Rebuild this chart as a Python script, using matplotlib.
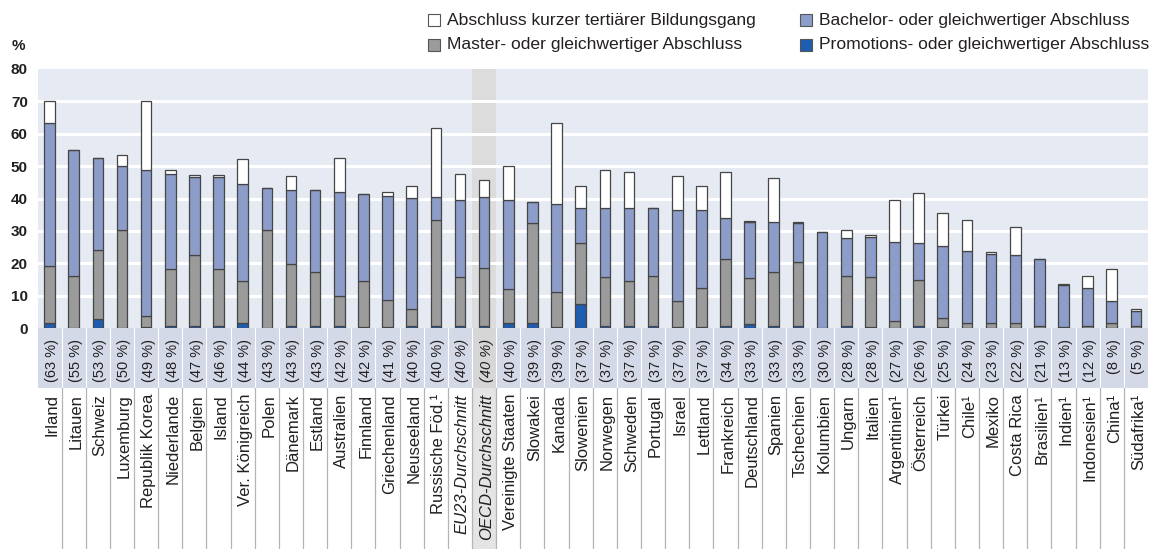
import matplotlib
matplotlib.use("Agg")
import matplotlib.pyplot as plt
from matplotlib.patches import Rectangle
import numpy as np

plt.rcParams['font.family'] = ['Liberation Sans', 'DejaVu Sans']

countries = ["Irland", "Litauen", "Schweiz", "Luxemburg", "Republik Korea", "Niederlande",
             "Belgien", "Island", "Ver. Königreich", "Polen", "Dänemark", "Estland",
             "Australien", "Finnland", "Griechenland", "Neuseeland", "Russische Föd.¹",
             "EU23-Durchschnitt", "OECD-Durchschnitt", "Vereinigte Staaten", "Slowakei",
             "Kanada", "Slowenien", "Norwegen", "Schweden", "Portugal", "Israel", "Lettland",
             "Frankreich", "Deutschland", "Spanien", "Tschechien", "Kolumbien", "Ungarn",
             "Italien", "Argentinien¹", "Österreich", "Türkei", "Chile¹", "Mexiko",
             "Costa Rica", "Brasilien¹", "Indien¹", "Indonesien¹", "China¹", "Südafrika¹"]

pct_labels = ["63", "55", "53", "50", "49", "48", "47", "46", "44", "43", "43", "43",
              "42", "42", "41", "40", "40", "40", "40", "40", "39", "39", "37", "37",
              "37", "37", "37", "37", "34", "33", "33", "33", "30", "28", "28", "27",
              "26", "25", "24", "23", "22", "21", "13", "12", "8", "5"]

doctoral = [1.5, 0, 2.8, 0, 0.3, 0.6, 0.6, 0.6, 1.5, 0, 0.6, 0.6, 0.6, 0.3, 0.3, 0.6,
            0.6, 0.6, 0.6, 1.5, 1.5, 0.3, 7.4, 0.6, 0.6, 0.6, 0.3, 0.3, 0.6, 1.2, 0.6,
            0.6, 0, 0.6, 0.3, 0, 0.6, 0.3, 0, 0, 0, 0, 0, 0, 0, 0]
master = [17.7, 16.0, 21.3, 30.2, 3.3, 17.5, 21.8, 17.5, 12.9, 30.2, 19.3, 16.8, 9.3,
          14.1, 8.5, 5.2, 32.8, 15.1, 17.9, 10.5, 30.8, 10.8, 18.8, 15.0, 13.8, 15.4,
          8.0, 12.1, 20.6, 14.1, 16.6, 19.9, 0, 15.4, 15.3, 2.1, 14.3, 2.9, 1.5, 1.5,
          1.5, 0.6, 0.3, 0.6, 1.5, 0.6]
bachelor = [44.0, 39.1, 28.4, 19.9, 45.3, 29.6, 24.1, 28.4, 30.1, 13.1, 22.8, 25.3,
            32.1, 27.1, 32.1, 34.4, 7.1, 23.9, 22.0, 27.6, 6.7, 27.3, 10.8, 21.4, 22.6,
            21.2, 28.1, 24.0, 12.8, 17.5, 15.5, 11.9, 29.7, 11.9, 12.4, 24.5, 11.3,
            22.2, 22.2, 21.5, 21.0, 20.6, 13.0, 11.8, 6.7, 4.6]
short_cycle = [6.8, 0, 0, 3.2, 21.1, 1.2, 0.7, 0.7, 7.7, 0, 4.4, 0, 10.5, 0, 1.2, 3.8,
               21.3, 8.1, 5.3, 10.5, 0, 24.8, 7.0, 11.9, 11.2, 0, 10.7, 7.6, 14.3, 0.3,
               13.7, 0.4, 0, 2.5, 0.6, 13.0, 15.4, 10.0, 9.7, 0.5, 8.7, 0, 0.4, 3.8,
               9.9, 0.6]

series_names = ["Abschluss kurzer tertiärer Bildungsgang",
                "Bachelor- oder gleichwertiger Abschluss",
                "Master- oder gleichwertiger Abschluss",
                "Promotions- oder gleichwertiger Abschluss"]
col_short = "#ffffff"
col_bach = "#8c9dca"
col_master = "#9b9b9b"
col_doc = "#1f5db0"
edge = "#454545"

oecd_idx = countries.index("OECD-Durchschnitt")
eu_idx = countries.index("EU23-Durchschnitt")
n = len(countries)
x = np.arange(n)

W, H = 1152, 549
fig = plt.figure(figsize=(W / 100, H / 100), dpi=100)
fig.patch.set_facecolor("white")

left_px, right_px, top_px, base_px = 37.5, 1148, 69, 328
ax = fig.add_axes([left_px / W, 1 - base_px / H, (right_px - left_px) / W, (base_px - top_px) / H])
ax.set_facecolor("#e6eaf3")
ax.set_xlim(-0.5, n - 0.5)
ax.set_ylim(0, 80)
ax.axvspan(oecd_idx - 0.5, oecd_idx + 0.5, color="#dcdcdc", zorder=0.5, lw=0)
for yv in range(10, 80, 10):
    ax.axhline(yv, color="white", lw=2.2, zorder=1)

d = np.array(doctoral)
m = np.array(master)
b = np.array(bachelor)
s = np.array(short_cycle)
bw = 0.44
kw = dict(width=bw, edgecolor=edge, linewidth=0.9, zorder=3)
ax.bar(x, d, color=col_doc, **kw)
ax.bar(x, m, bottom=d, color=col_master, **kw)
ax.bar(x, b, bottom=d + m, color=col_bach, **kw)
ax.bar(x, s, bottom=d + m + b, color=col_short, **kw)

for sp in ax.spines.values():
    sp.set_visible(False)
ax.set_xticks([])
ax.set_yticks(range(0, 81, 10))
ax.tick_params(axis="y", length=0, pad=7, labelsize=11, labelcolor="#231f20")
for t in ax.get_yticklabels():
    t.set_fontweight("bold")
fig.text(18 / W, 1 - 46 / H, "%", fontsize=11, fontweight="bold", color="#231f20",
         ha="center", va="center")

# label area below the plot
axl = fig.add_axes([left_px / W, 0, (right_px - left_px) / W, (H - base_px) / H])
axl.set_xlim(-0.5, n - 0.5)
band_h = 60
axl.set_ylim(H - base_px, 0)
axl.axis("off")
axl.add_patch(Rectangle((-0.5, 0), n, band_h, facecolor="#d4d9e8", edgecolor="none", zorder=0))
axl.add_patch(Rectangle((oecd_idx - 0.5, 0), 1, band_h, facecolor="#d6d6d6", edgecolor="none", zorder=0.5))
axl.add_patch(Rectangle((oecd_idx - 0.5, band_h), 1, H - base_px - band_h,
                        facecolor="#e4e4e4", edgecolor="none", zorder=0.5))
for i in range(n - 1):
    axl.plot([i + 0.5, i + 0.5], [0, band_h], color="white", lw=0.8, zorder=1)
    axl.plot([i + 0.5, i + 0.5], [band_h, H - base_px], color="#b4b4b4", lw=0.9, zorder=1)

for i in range(n):
    style = "italic" if i in (eu_idx, oecd_idx) else "normal"
    axl.text(i + 0.1, 11, f"({pct_labels[i]} %)", rotation=90, ha="center", va="top",
             fontsize=10.5, color="#231f20", style=style)
    axl.text(i + 0.1, 66, countries[i], rotation=90, ha="center", va="top",
             fontsize=12, color="#231f20", style=style)

# legend (manual placement)
leg_items = [(428, 20, col_short, series_names[0]),
             (428, 45, col_master, series_names[2]),
             (800, 20, col_bach, series_names[1]),
             (800, 45, col_doc, series_names[3])]
for lx, ly, c, name in leg_items:
    fig.patches.append(Rectangle((lx / W, 1 - (ly + 6) / H), 12 / W, 12 / H,
                                 transform=fig.transFigure, facecolor=c,
                                 edgecolor="#555555", lw=0.8))
    fig.text((lx + 19) / W, 1 - ly / H, name, fontsize=12.6, color="#231f20",
             ha="left", va="center")

fig.savefig("out.png", dpi=100)
